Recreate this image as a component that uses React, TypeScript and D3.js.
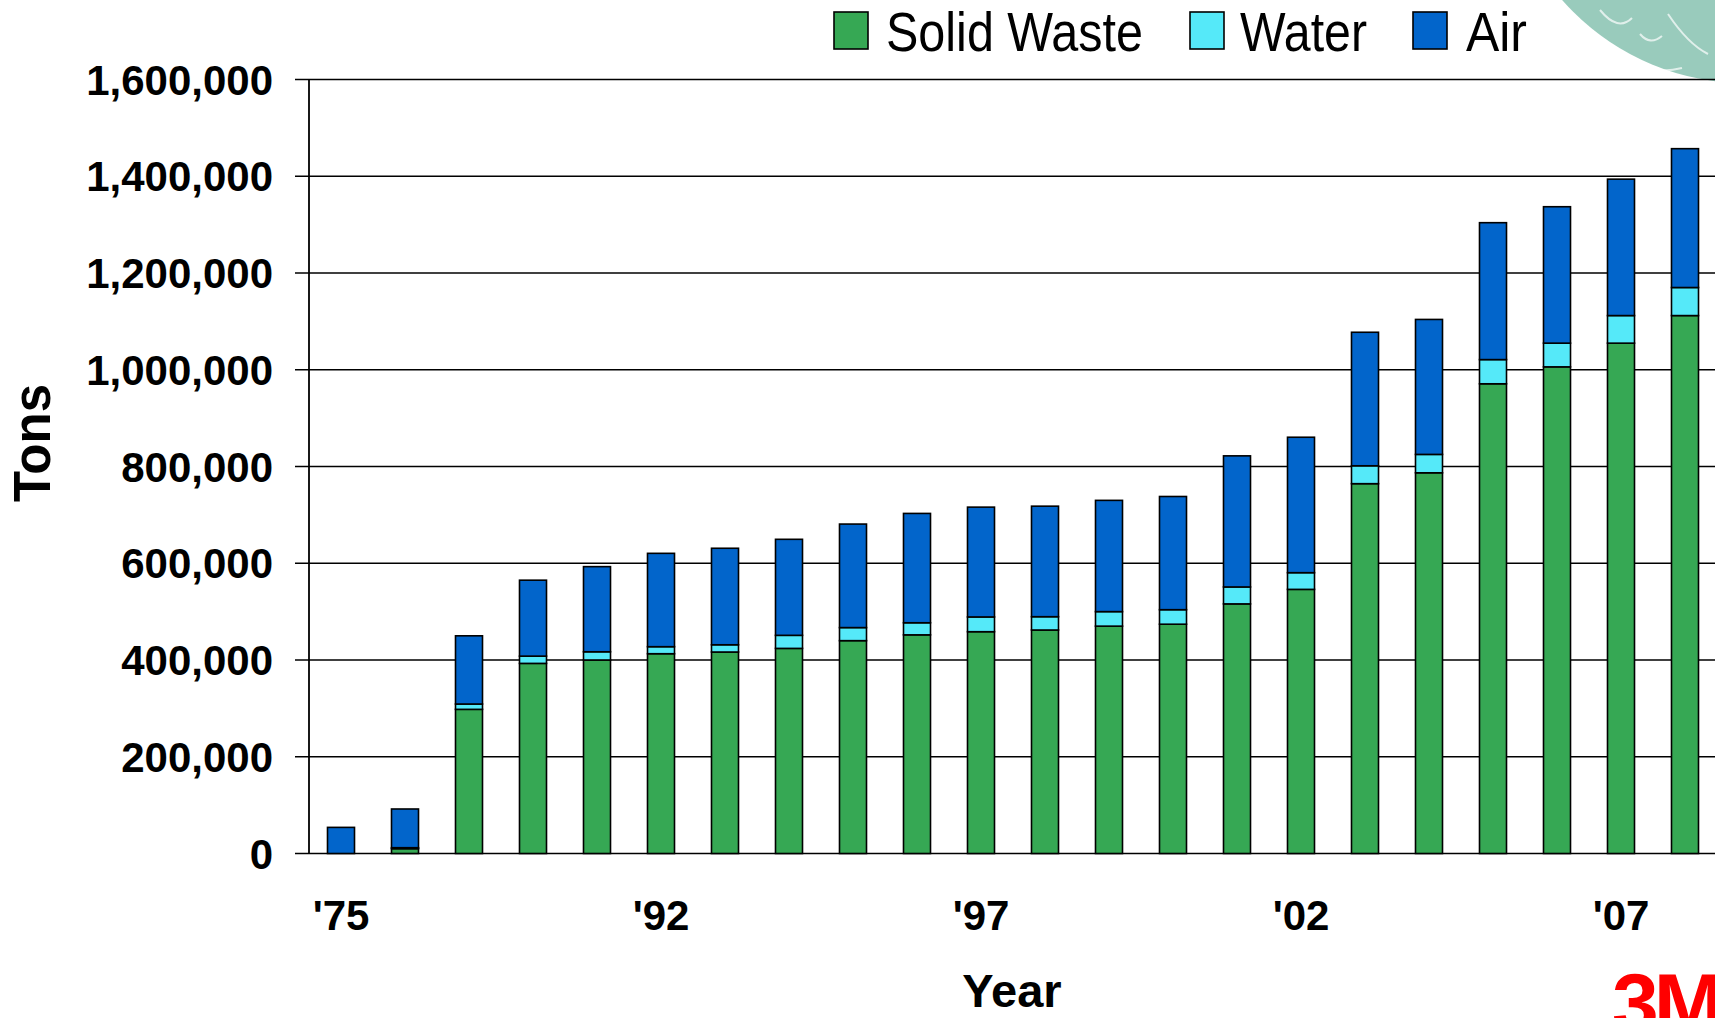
import { scaleBand, scaleLinear, stack, format } from "d3";

// years in the chart (only some get a label)
const YEARS = [
  "1975", "1980", "1989", "1990", "1991", "1992", "1993", "1994", "1995", "1996", "1997",
  "1998", "1999", "2000", "2001", "2002", "2003", "2004", "2005", "2006", "2007", "2008",
];
const TICK_YEARS = ["1975", "1992", "1997", "2002", "2007"];

// tons
const SOLID_WASTE = [
  0, 10000, 298000, 393000, 400000, 413000, 416500, 424000, 440000, 452000, 458500,
  462000, 470000, 474000, 516000, 546000, 764500, 787000, 971000, 1006000, 1055000, 1112000,
];
const WATER = [
  0, 2000, 11000, 15000, 17000, 14500, 15000, 27000, 27000, 25000, 30500,
  27500, 30000, 30000, 35000, 34500, 37000, 38000, 50000, 49000, 57000, 58000,
];
const AIR = [
  54000, 80000, 141000, 157000, 176000, 193000, 199500, 198500, 214000, 226000, 227000,
  228500, 230000, 234000, 271000, 280000, 276000, 279000, 283000, 282000, 282000, 287000,
];

const SERIES = ["Solid Waste", "Water", "Air"] as const;
const COLORS: Record<string, string> = {
  "Solid Waste": "#36a854",
  Water: "#55e9f9",
  Air: "#0265cb",
};

const W = 1715;
const H = 1018;
const FONT = "'Liberation Sans', Arial, Helvetica, sans-serif";

const rows = YEARS.map((year, i) => ({
  year,
  "Solid Waste": SOLID_WASTE[i],
  Water: WATER[i],
  Air: AIR[i],
}));

export default function App() {
  const left = 309;
  const top = 79.5;
  const bottom = 853.5;

  const x = scaleBand<string>()
    .domain(YEARS)
    .range([left, left + 64 * YEARS.length])
    .paddingInner(0.578)
    .paddingOuter(0.289);

  const y = scaleLinear().domain([0, 1600000]).range([bottom, top]);
  const yTicks = y.ticks(8);
  const fmt = format(",");

  const layers = stack<any>().keys(SERIES as unknown as string[])(rows);

  // legend positions
  const legend = [
    { key: "Solid Waste", sx: 834, tx: 886, tw: 257 },
    { key: "Water", sx: 1190, tx: 1240, tw: 127 },
    { key: "Air", sx: 1413, tx: 1466, tw: 61 },
  ];

  return (
    <svg
      width={W}
      height={H}
      style={{ position: "absolute", left: 0, top: 0, display: "block", background: "#fff" }}
      fontFamily={FONT}
    >
      {/* globe in the corner */}
      <g opacity={0.9}>
        <circle cx={1745} cy={-160} r={243} fill="#8ec6b5" />
        <path
          d="M1600,10 q18,22 32,8 M1640,34 q10,12 22,2 M1668,14 q20,30 40,40 M1622,58 q30,18 60,10"
          stroke="#fff"
          strokeWidth={2}
          fill="none"
          opacity={0.7}
        />
      </g>

      {/* gridlines + ticks */}
      {yTicks.map((t) => (
        <g key={t}>
          <line x1={295} x2={W} y1={y(t)} y2={y(t)} stroke="#000" strokeWidth={1.6} />
          <text x={273} y={y(t) + 15} textAnchor="end" fontSize={42} fontWeight="bold">
            {fmt(t)}
          </text>
        </g>
      ))}
      <line x1={left} x2={left} y1={top} y2={bottom} stroke="#000" strokeWidth={1.8} />

      {/* stacked bars */}
      {layers.map((layer) => (
        <g key={layer.key} fill={COLORS[layer.key]}>
          {layer.map((d, i) => (
            <rect
              key={i}
              x={x(YEARS[i])}
              width={x.bandwidth()}
              y={y(d[1])}
              height={y(d[0]) - y(d[1])}
              stroke="#000"
              strokeWidth={1.6}
            />
          ))}
        </g>
      ))}

      {/* x labels */}
      {TICK_YEARS.map((yr) => (
        <text
          key={yr}
          x={(x(yr) ?? 0) + x.bandwidth() / 2}
          y={930}
          textAnchor="middle"
          fontSize={42}
          fontWeight="bold"
        >
          {"'" + yr.slice(2)}
        </text>
      ))}

      {/* axis titles */}
      <text transform="translate(50,443) rotate(-90)" textAnchor="middle" fontSize={51} fontWeight="bold">
        Tons
      </text>
      <text x={1012} y={1007} textAnchor="middle" fontSize={47} fontWeight="bold">
        Year
      </text>

      {/* legend */}
      {legend.map((l) => (
        <g key={l.key}>
          <rect x={l.sx} y={12} width={34} height={37} fill={COLORS[l.key]} stroke="#000" strokeWidth={1.6} />
          <text x={l.tx} y={51} fontSize={55} textLength={l.tw} lengthAdjust="spacingAndGlyphs">
            {l.key}
          </text>
        </g>
      ))}

      {/* 3M logo, cut by the page edge */}
      <text x={1612} y={1032} fontSize={84} fontWeight="900" fill="#ff0000" letterSpacing={-5}>
        3M
      </text>
    </svg>
  );
}
